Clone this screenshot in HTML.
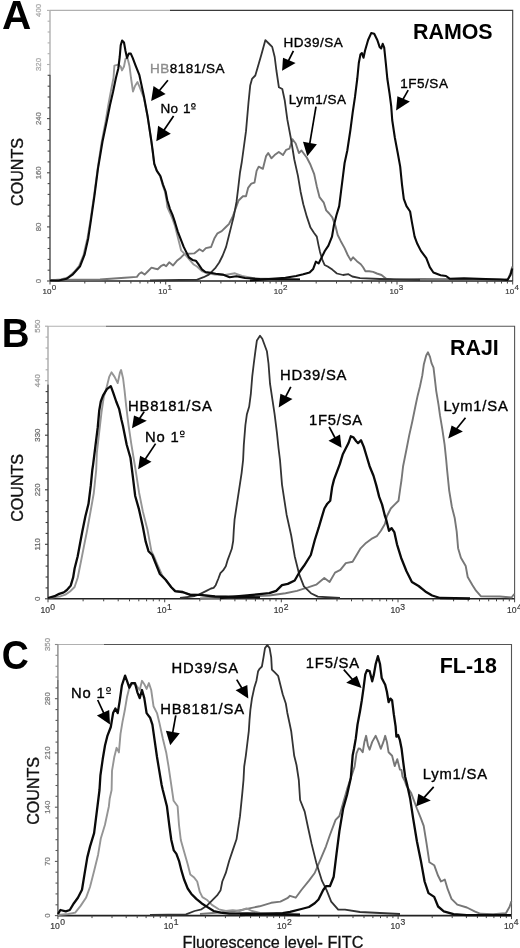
<!DOCTYPE html>
<html><head><meta charset="utf-8"><style>
html,body{margin:0;padding:0;background:#fff;}
body{width:520px;height:948px;position:relative;overflow:hidden;font-family:"Liberation Sans", sans-serif;}
svg text{font-family:"Liberation Sans", sans-serif;}
svg{filter:blur(0.35px);}
</style></head><body>
<svg width="520" height="948" viewBox="0 0 520 948" style="position:absolute;left:0;top:0">
<path d="M50,10.4H170" fill="none" stroke="#b0b0b0" stroke-width="1.1"/>
<path d="M170,10.4H512.7V281" fill="none" stroke="#3a3a3a" stroke-width="1.1"/>
<path d="M50,10.4V74.7" fill="none" stroke="#b0b0b0" stroke-width="1.4"/>
<path d="M50,74.7V281" fill="none" stroke="#4a4a4a" stroke-width="1.4"/>
<path d="M47.0,10.4H50" stroke="#b0b0b0" stroke-width="1.1"/>
<path d="M47.6,21.2H50" stroke="#b0b0b0" stroke-width="1.1"/>
<path d="M47.6,32.0H50" stroke="#b0b0b0" stroke-width="1.1"/>
<path d="M47.6,42.9H50" stroke="#b0b0b0" stroke-width="1.1"/>
<path d="M47.6,53.7H50" stroke="#b0b0b0" stroke-width="1.1"/>
<path d="M47.0,64.5H50" stroke="#b0b0b0" stroke-width="1.1"/>
<path d="M47.6,75.3H50" stroke="#4a4a4a" stroke-width="1.1"/>
<path d="M47.6,86.2H50" stroke="#4a4a4a" stroke-width="1.1"/>
<path d="M47.6,97.0H50" stroke="#4a4a4a" stroke-width="1.1"/>
<path d="M47.6,107.8H50" stroke="#4a4a4a" stroke-width="1.1"/>
<path d="M47.0,118.6H50" stroke="#4a4a4a" stroke-width="1.1"/>
<path d="M47.6,129.5H50" stroke="#4a4a4a" stroke-width="1.1"/>
<path d="M47.6,140.3H50" stroke="#4a4a4a" stroke-width="1.1"/>
<path d="M47.6,151.1H50" stroke="#4a4a4a" stroke-width="1.1"/>
<path d="M47.6,161.9H50" stroke="#4a4a4a" stroke-width="1.1"/>
<path d="M47.0,172.8H50" stroke="#4a4a4a" stroke-width="1.1"/>
<path d="M47.6,183.6H50" stroke="#4a4a4a" stroke-width="1.1"/>
<path d="M47.6,194.4H50" stroke="#4a4a4a" stroke-width="1.1"/>
<path d="M47.6,205.2H50" stroke="#4a4a4a" stroke-width="1.1"/>
<path d="M47.6,216.1H50" stroke="#4a4a4a" stroke-width="1.1"/>
<path d="M47.0,226.9H50" stroke="#4a4a4a" stroke-width="1.1"/>
<path d="M47.6,237.7H50" stroke="#4a4a4a" stroke-width="1.1"/>
<path d="M47.6,248.5H50" stroke="#4a4a4a" stroke-width="1.1"/>
<path d="M47.6,259.4H50" stroke="#4a4a4a" stroke-width="1.1"/>
<path d="M47.6,270.2H50" stroke="#4a4a4a" stroke-width="1.1"/>
<path d="M47.0,281.0H50" stroke="#4a4a4a" stroke-width="1.1"/>
<text x="41.2" y="10.4" transform="rotate(-90 41.2 10.4)" text-anchor="middle" font-size="7.8" fill="#a8a8a8" stroke="#a8a8a8" stroke-width="0.25">400</text>
<text x="41.2" y="64.5" transform="rotate(-90 41.2 64.5)" text-anchor="middle" font-size="7.8" fill="#a8a8a8" stroke="#a8a8a8" stroke-width="0.25">320</text>
<text x="41.2" y="118.6" transform="rotate(-90 41.2 118.6)" text-anchor="middle" font-size="7.8" fill="#7a7a7a" stroke="#7a7a7a" stroke-width="0.25">240</text>
<text x="41.2" y="172.8" transform="rotate(-90 41.2 172.8)" text-anchor="middle" font-size="7.8" fill="#7a7a7a" stroke="#7a7a7a" stroke-width="0.25">160</text>
<text x="41.2" y="226.9" transform="rotate(-90 41.2 226.9)" text-anchor="middle" font-size="7.8" fill="#7a7a7a" stroke="#7a7a7a" stroke-width="0.25">80</text>
<text x="41.2" y="281.0" transform="rotate(-90 41.2 281.0)" text-anchor="middle" font-size="7.8" fill="#7a7a7a" stroke="#7a7a7a" stroke-width="0.25">0</text>
<path d="M50,281H512.7" stroke="#222" stroke-width="1.6"/>
<path d="M50.0,281v3.5 M84.8,281v2.5 M105.2,281v2.5 M119.6,281v2.5 M130.9,281v2.5 M140.0,281v2.5 M147.8,281v2.5 M154.5,281v2.5 M160.4,281v2.5 M165.7,281v3.5 M200.5,281v2.5 M220.9,281v2.5 M235.3,281v2.5 M246.5,281v2.5 M255.7,281v2.5 M263.4,281v2.5 M270.1,281v2.5 M276.1,281v2.5 M281.4,281v3.5 M316.2,281v2.5 M336.5,281v2.5 M351.0,281v2.5 M362.2,281v2.5 M371.4,281v2.5 M379.1,281v2.5 M385.8,281v2.5 M391.7,281v2.5 M397.0,281v3.5 M431.8,281v2.5 M452.2,281v2.5 M466.7,281v2.5 M477.9,281v2.5 M487.0,281v2.5 M494.8,281v2.5 M501.5,281v2.5 M507.4,281v2.5 M512.7,281v3.5" stroke="#444" stroke-width="1"/>
<text x="42.5" y="293.6" font-size="8.0" fill="#3a3a3a" stroke="#3a3a3a" stroke-width="0.2">10<tspan dx="0.4" dy="-3.3">0</tspan></text>
<text x="158.2" y="293.6" font-size="8.0" fill="#3a3a3a" stroke="#3a3a3a" stroke-width="0.2">10<tspan dx="0.4" dy="-3.3">1</tspan></text>
<text x="273.8" y="293.6" font-size="8.0" fill="#3a3a3a" stroke="#3a3a3a" stroke-width="0.2">10<tspan dx="0.4" dy="-3.3">2</tspan></text>
<text x="389.5" y="293.6" font-size="8.0" fill="#3a3a3a" stroke="#3a3a3a" stroke-width="0.2">10<tspan dx="0.4" dy="-3.3">3</tspan></text>
<text x="505.2" y="293.6" font-size="8.0" fill="#3a3a3a" stroke="#3a3a3a" stroke-width="0.2">10<tspan dx="0.4" dy="-3.3">4</tspan></text>
<text x="16.7" y="172" transform="rotate(-90 16.7 172)" text-anchor="middle" dominant-baseline="central" font-size="16.1" fill="#111" stroke="#111" stroke-width="0.35">COUNTS</text>
<text transform="translate(1.89 29.40) scale(40.537 40.552)" x="0" y="0" font-size="1" font-weight="bold" fill="#000">A</text>
<text x="413.0" y="39.4" font-size="21.4" font-weight="bold" fill="#000">RAMOS</text>
<polyline points="50.0,280.0 100.0,279.5 124.6,277.7 136.9,276.9 139.2,273.8 141.5,272.3 144.6,274.6 147.7,271.5 151.5,267.7 154.6,268.5 157.7,269.2 160.8,266.2 163.8,264.6 166.2,266.2 169.2,262.3 173.1,265.4 176.9,260.8 180.8,257.7 183.8,254.6 187.7,253.8 194.2,253.4 199.5,249.2 202.7,251.3 205.9,248.1 211.1,247.0 214.3,238.6 217.5,233.3 221.7,231.2 225.9,227.0 229.1,223.8 232.3,217.5 235.5,209.0 238.6,200.5 242.9,196.3 246.0,196.3 248.1,187.9 251.3,183.6 254.5,182.6 256.6,170.9 258.7,166.7 262.9,168.8 266.1,156.1 268.2,153.0 271.4,158.3 274.6,155.1 278.8,151.9 283.0,155.1 286.2,149.8 289.4,148.7 292.5,139.2 295.7,143.5 298.9,153.0 301.5,150.5 306.9,157.7 310.5,164.8 314.1,173.8 316.8,186.4 319.5,197.1 323.8,202.7 326.2,210.4 329.2,213.5 332.3,217.3 335.4,225.8 337.7,235.0 340.8,241.2 344.6,248.1 347.7,255.0 350.8,260.4 353.1,257.3 356.9,261.2 360.8,264.2 363.1,267.3 365.4,271.2 369.2,271.2 373.1,271.9 376.9,273.5 381.5,275.0 386.2,278.8 393.8,279.6 420.0,279.0 505.0,279.5 508.0,279.0 510.5,273.0 512.3,266.5" fill="none" stroke="#777" stroke-width="1.9" stroke-linejoin="round"/>
<polyline points="50.0,280.5 60.8,279.5 68.0,277.5 74.0,272.0 79.0,266.0 83.5,255.0 87.5,238.0 90.5,220.0 94.0,196.0 97.5,170.0 101.5,143.0 105.5,122.0 108.5,104.0 111.5,88.0 113.5,78.0 114.4,65.6 118.3,64.6 120.7,66.5 122.0,70.4 124.0,66.5 125.5,58.8 127.5,58.0 129.5,66.0 131.0,78.0 133.0,91.5 135.0,86.0 137.5,82.0 140.0,88.0 143.9,98.0 147.5,116.0 151.2,140.0 152.4,150.0 154.0,163.0 156.5,170.5 160.0,176.0 162.5,184.6 165.0,192.0 166.5,200.0 167.3,207.0 170.0,213.0 172.5,219.0 175.0,226.0 177.5,236.0 181.1,250.3 184.6,253.8 188.0,258.0 193.3,264.2 197.0,266.5 201.9,271.1 206.0,273.0 215.0,274.5 225.0,275.0 235.0,273.3 242.0,276.0 255.0,278.5 300.0,279.5" fill="none" stroke="#959595" stroke-width="1.9" stroke-linejoin="round"/>
<polyline points="150.0,280.5 180.0,280.0 196.7,279.8 203.6,277.2 208.8,274.6 212.3,271.1 215.7,267.6 219.2,262.5 222.7,255.5 226.1,246.9 228.7,236.5 231.3,226.1 233.9,215.7 236.5,201.9 238.2,188.1 240.0,172.5 241.8,162.0 246.0,131.2 248.5,102.5 250.2,85.6 252.0,78.9 255.3,75.5 257.8,67.1 261.2,55.3 265.4,40.1 268.8,43.5 272.2,46.9 274.7,57.0 276.4,70.5 278.9,87.3 282.3,89.0 284.8,100.8 287.3,119.4 290.8,138.0 294.3,159.5 297.9,175.6 300.6,191.7 303.3,204.3 306.9,216.9 310.5,227.6 314.1,233.0 316.8,236.6 318.6,245.6 320.0,251.9 322.3,259.6 324.6,265.0 327.7,266.5 332.3,269.6 336.9,273.5 343.1,275.0 348.5,274.2 352.3,276.5 360.0,278.1 380.0,279.0 420.0,280.0" fill="none" stroke="#333" stroke-width="1.8" stroke-linejoin="round"/>
<polyline points="50.0,280.5 58.6,280.5 66.7,278.7 72.9,274.3 80.1,266.2 84.6,254.5 88.2,238.4 90.9,220.4 94.5,195.3 98.0,168.4 102.5,141.5 107.0,120.0 110.0,105.0 113.0,92.0 115.9,78.0 118.3,68.5 119.7,57.0 120.7,45.4 122.1,40.6 124.0,42.5 125.5,51.0 127.0,57.9 128.8,53.6 130.8,53.6 132.7,57.9 135.6,65.6 139.4,75.2 143.9,96.3 147.5,115.7 151.2,140.0 152.6,150.0 154.3,163.8 156.9,170.8 160.4,176.0 163.0,184.6 165.6,191.5 167.3,200.2 169.9,208.8 172.5,214.9 175.1,222.7 177.7,231.3 180.3,238.2 183.7,246.9 186.3,252.1 188.9,257.3 192.4,259.9 195.8,260.7 198.4,264.2 201.9,269.4 205.4,272.0 210.6,272.8 215.7,273.7 222.7,274.6 229.6,277.2 236.5,276.3 245.0,278.0 260.0,279.0 300.0,279.5" fill="none" stroke="#0a0a0a" stroke-width="2.1" stroke-linejoin="round"/>
<polyline points="250.0,280.5 285.4,277.8 296.1,276.0 303.3,274.3 309.6,272.5 313.2,268.9 315.9,261.7 318.6,263.5 321.3,258.1 324.8,251.0 328.4,245.6 332.0,236.6 333.8,225.8 336.5,215.0 339.2,206.1 341.0,191.7 342.8,177.4 344.6,163.0 347.3,150.5 350.4,130.0 352.7,112.3 355.0,96.9 357.3,78.5 358.8,63.0 360.4,54.6 361.9,53.1 363.5,57.7 365.0,50.8 368.1,40.0 371.2,33.1 374.2,33.8 377.3,40.0 379.6,46.9 381.2,48.5 382.7,43.8 384.2,47.7 385.8,63.0 387.3,78.5 389.6,93.8 391.2,106.2 392.2,120.0 394.9,138.0 397.6,152.3 400.2,166.6 402.0,184.6 403.8,198.9 406.5,206.1 410.1,211.5 411.9,222.2 414.6,236.6 417.3,243.8 420.9,250.9 426.3,258.1 429.8,267.1 433.4,272.5 440.6,275.2 446.0,276.0 449.6,278.7 464.0,278.4 500.0,279.5 507.5,280.0 510.5,275.0 512.3,268.5" fill="none" stroke="#0a0a0a" stroke-width="2.1" stroke-linejoin="round"/>
<path d="M48,326.2H106" fill="none" stroke="#b0b0b0" stroke-width="1.1"/>
<path d="M106,326.2H514.6V598.8" fill="none" stroke="#555" stroke-width="1.1"/>
<path d="M48,326.2V384.5" fill="none" stroke="#aaaaaa" stroke-width="1.4"/>
<path d="M48,384.5V598.8" fill="none" stroke="#3a3a3a" stroke-width="1.4"/>
<path d="M45.0,326.2H48" stroke="#aaaaaa" stroke-width="1.1"/>
<path d="M45.6,337.1H48" stroke="#aaaaaa" stroke-width="1.1"/>
<path d="M45.6,348.0H48" stroke="#aaaaaa" stroke-width="1.1"/>
<path d="M45.6,358.9H48" stroke="#aaaaaa" stroke-width="1.1"/>
<path d="M45.6,369.8H48" stroke="#aaaaaa" stroke-width="1.1"/>
<path d="M45.0,380.7H48" stroke="#aaaaaa" stroke-width="1.1"/>
<path d="M45.6,391.6H48" stroke="#3a3a3a" stroke-width="1.1"/>
<path d="M45.6,402.5H48" stroke="#3a3a3a" stroke-width="1.1"/>
<path d="M45.6,413.4H48" stroke="#3a3a3a" stroke-width="1.1"/>
<path d="M45.6,424.3H48" stroke="#3a3a3a" stroke-width="1.1"/>
<path d="M45.0,435.2H48" stroke="#3a3a3a" stroke-width="1.1"/>
<path d="M45.6,446.1H48" stroke="#3a3a3a" stroke-width="1.1"/>
<path d="M45.6,457.0H48" stroke="#3a3a3a" stroke-width="1.1"/>
<path d="M45.6,468.0H48" stroke="#3a3a3a" stroke-width="1.1"/>
<path d="M45.6,478.9H48" stroke="#3a3a3a" stroke-width="1.1"/>
<path d="M45.0,489.8H48" stroke="#3a3a3a" stroke-width="1.1"/>
<path d="M45.6,500.7H48" stroke="#3a3a3a" stroke-width="1.1"/>
<path d="M45.6,511.6H48" stroke="#3a3a3a" stroke-width="1.1"/>
<path d="M45.6,522.5H48" stroke="#3a3a3a" stroke-width="1.1"/>
<path d="M45.6,533.4H48" stroke="#3a3a3a" stroke-width="1.1"/>
<path d="M45.0,544.3H48" stroke="#3a3a3a" stroke-width="1.1"/>
<path d="M45.6,555.2H48" stroke="#3a3a3a" stroke-width="1.1"/>
<path d="M45.6,566.1H48" stroke="#3a3a3a" stroke-width="1.1"/>
<path d="M45.6,577.0H48" stroke="#3a3a3a" stroke-width="1.1"/>
<path d="M45.6,587.9H48" stroke="#3a3a3a" stroke-width="1.1"/>
<path d="M45.0,598.8H48" stroke="#3a3a3a" stroke-width="1.1"/>
<text x="40.4" y="326.2" transform="rotate(-90 40.4 326.2)" text-anchor="middle" font-size="7.8" fill="#999" stroke="#999" stroke-width="0.25">550</text>
<text x="40.4" y="380.7" transform="rotate(-90 40.4 380.7)" text-anchor="middle" font-size="7.8" fill="#999" stroke="#999" stroke-width="0.25">440</text>
<text x="40.4" y="435.2" transform="rotate(-90 40.4 435.2)" text-anchor="middle" font-size="7.8" fill="#6a6a6a" stroke="#6a6a6a" stroke-width="0.25">330</text>
<text x="40.4" y="489.8" transform="rotate(-90 40.4 489.8)" text-anchor="middle" font-size="7.8" fill="#6a6a6a" stroke="#6a6a6a" stroke-width="0.25">220</text>
<text x="40.4" y="544.3" transform="rotate(-90 40.4 544.3)" text-anchor="middle" font-size="7.8" fill="#6a6a6a" stroke="#6a6a6a" stroke-width="0.25">110</text>
<text x="40.4" y="598.8" transform="rotate(-90 40.4 598.8)" text-anchor="middle" font-size="7.8" fill="#6a6a6a" stroke="#6a6a6a" stroke-width="0.25">0</text>
<path d="M48,598.8H514.6" stroke="#222" stroke-width="1.6"/>
<path d="M48.0,598.8v3.5 M83.1,598.8v2.5 M103.7,598.8v2.5 M118.2,598.8v2.5 M129.5,598.8v2.5 M138.8,598.8v2.5 M146.6,598.8v2.5 M153.3,598.8v2.5 M159.3,598.8v2.5 M164.7,598.8v3.5 M199.8,598.8v2.5 M220.3,598.8v2.5 M234.9,598.8v2.5 M246.2,598.8v2.5 M255.4,598.8v2.5 M263.2,598.8v2.5 M270.0,598.8v2.5 M276.0,598.8v2.5 M281.3,598.8v3.5 M316.4,598.8v2.5 M337.0,598.8v2.5 M351.5,598.8v2.5 M362.8,598.8v2.5 M372.1,598.8v2.5 M379.9,598.8v2.5 M386.6,598.8v2.5 M392.6,598.8v2.5 M398.0,598.8v3.5 M433.1,598.8v2.5 M453.6,598.8v2.5 M468.2,598.8v2.5 M479.5,598.8v2.5 M488.7,598.8v2.5 M496.5,598.8v2.5 M503.3,598.8v2.5 M509.3,598.8v2.5 M514.6,598.8v3.5" stroke="#444" stroke-width="1"/>
<text x="40.4" y="613.2" font-size="8.6" fill="#3a3a3a" stroke="#3a3a3a" stroke-width="0.2">10<tspan dx="0.4" dy="-3.3">0</tspan></text>
<text x="157.1" y="613.2" font-size="8.6" fill="#3a3a3a" stroke="#3a3a3a" stroke-width="0.2">10<tspan dx="0.4" dy="-3.3">1</tspan></text>
<text x="273.7" y="613.2" font-size="8.6" fill="#3a3a3a" stroke="#3a3a3a" stroke-width="0.2">10<tspan dx="0.4" dy="-3.3">2</tspan></text>
<text x="390.4" y="613.2" font-size="8.6" fill="#3a3a3a" stroke="#3a3a3a" stroke-width="0.2">10<tspan dx="0.4" dy="-3.3">3</tspan></text>
<text x="507.0" y="613.2" font-size="8.6" fill="#3a3a3a" stroke="#3a3a3a" stroke-width="0.2">10<tspan dx="0.4" dy="-3.3">4</tspan></text>
<text x="16.9" y="487.9" transform="rotate(-90 16.9 487.9)" text-anchor="middle" dominant-baseline="central" font-size="16.1" fill="#111" stroke="#111" stroke-width="0.35">COUNTS</text>
<text transform="translate(1.82 346.80) scale(38.525 40.407)" x="0" y="0" font-size="1" font-weight="bold" fill="#000">B</text>
<text x="450.0" y="355.0" font-size="21.4" font-weight="bold" fill="#000">RAJI</text>
<polyline points="200.0,598.5 269.3,595.5 285.5,593.2 297.0,590.9 303.9,588.6 308.1,587.4 316.2,584.7 324.3,578.0 329.6,582.0 335.0,572.6 340.4,569.9 345.8,563.1 352.6,561.8 356.6,555.0 360.6,548.3 366.0,542.9 371.4,538.9 376.8,536.2 380.9,530.8 384.9,524.0 386.9,516.2 390.8,508.5 394.6,504.6 398.5,500.8 400.4,487.3 401.5,480.0 403.1,466.2 406.2,450.8 409.2,435.4 412.3,421.5 415.4,406.2 417.7,395.4 420.0,386.2 422.3,375.4 423.8,364.6 426.2,355.4 428.0,352.3 430.0,356.9 431.5,363.1 433.5,367.7 434.6,376.9 436.2,390.8 438.5,404.6 440.0,415.4 442.3,429.2 444.6,444.6 446.2,460.0 447.1,470.0 449.2,490.6 451.9,507.0 454.7,518.0 456.7,531.7 458.1,548.2 460.9,557.8 465.7,566.0 467.7,577.0 472.5,585.2 476.0,590.7 480.8,596.2 500.0,596.5 511.5,597.5 514.3,594.0" fill="none" stroke="#777" stroke-width="1.9" stroke-linejoin="round"/>
<polyline points="48.0,598.0 60.8,596.2 65.4,594.6 70.0,591.5 74.6,587.0 77.7,577.7 80.8,562.3 83.8,547.0 86.9,531.5 90.8,510.0 93.8,493.0 96.2,470.0 96.9,452.3 99.2,432.3 101.5,412.3 103.8,396.9 106.9,386.2 109.2,376.9 111.5,372.3 114.6,376.9 117.7,383.1 120.0,372.3 121.1,370.0 123.1,378.5 124.6,390.8 126.2,406.2 127.7,418.5 128.6,425.7 131.4,444.7 135.2,467.5 139.0,492.2 142.8,511.3 147.6,530.3 151.4,551.2 154.2,556.9 158.0,566.0 162.0,575.0 166.0,580.0 171.3,587.3 176.0,591.5 183.0,592.5 190.3,594.5 200.0,595.0 215.0,596.5 260.0,597.5" fill="none" stroke="#959595" stroke-width="1.9" stroke-linejoin="round"/>
<polyline points="180.0,598.0 190.8,596.6 194.8,596.0 198.8,594.6 202.9,592.6 206.9,590.6 211.0,588.5 213.6,587.9 215.7,585.2 218.4,578.5 220.4,573.1 223.1,570.4 225.8,566.3 227.8,559.6 229.8,554.2 231.8,548.8 233.2,540.8 233.8,530.0 234.6,519.3 238.1,496.2 241.6,473.1 243.1,460.0 243.8,445.0 245.4,425.0 246.9,414.2 249.2,406.5 250.8,394.2 252.3,375.8 253.8,363.5 255.4,351.2 256.9,340.4 260.0,335.8 262.3,338.8 264.6,345.0 266.9,351.2 268.5,363.5 270.0,383.5 272.3,398.8 274.6,414.2 276.9,432.7 278.5,448.0 280.0,460.0 282.0,484.6 286.6,514.7 291.2,535.5 294.7,556.2 299.3,574.7 303.9,586.3 310.9,593.2 317.8,596.6 340.0,598.0" fill="none" stroke="#333" stroke-width="1.8" stroke-linejoin="round"/>
<polyline points="48.0,598.0 54.6,596.2 59.2,593.8 63.8,592.3 66.9,590.0 70.8,585.4 73.1,577.7 74.6,568.5 77.7,556.2 80.0,543.8 82.3,531.5 85.4,516.2 88.5,503.8 90.8,485.4 92.3,470.0 93.1,464.6 95.4,446.2 97.7,427.7 99.2,410.8 100.8,401.5 103.1,395.4 106.9,389.2 110.8,386.2 113.1,392.3 116.2,401.5 119.2,409.2 121.5,420.0 122.9,425.7 126.7,444.7 130.5,458.0 132.4,473.2 135.2,496.0 139.0,509.4 142.8,526.5 145.7,541.7 148.5,551.2 152.3,555.0 156.1,564.5 159.9,574.0 165.6,579.7 171.3,587.3 175.1,591.1 182.7,592.0 190.3,594.9 199.8,594.9 215.0,596.5 260.0,597.5" fill="none" stroke="#0a0a0a" stroke-width="2.3" stroke-linejoin="round"/>
<polyline points="220.0,598.0 269.3,593.2 276.2,590.9 282.0,585.1 287.8,583.9 294.7,580.5 300.0,571.2 304.0,565.8 310.8,555.0 314.8,540.0 318.7,527.7 321.5,518.1 324.4,508.5 327.3,503.7 330.2,500.8 332.1,487.3 334.0,479.6 336.9,471.9 339.8,464.2 342.7,454.6 345.6,448.8 348.5,443.1 350.8,436.3 353.3,437.3 356.2,441.2 358.1,443.1 361.0,440.2 363.8,446.9 366.7,456.5 369.6,466.2 373.5,475.8 376.3,485.4 379.2,496.9 382.1,504.6 385.0,516.2 386.3,520.0 389.0,530.8 391.6,528.1 394.3,532.1 397.0,544.3 401.1,557.7 406.5,571.2 411.9,582.0 418.6,586.0 425.3,591.4 432.1,595.5 440.2,598.0 470.0,598.5" fill="none" stroke="#0a0a0a" stroke-width="2.3" stroke-linejoin="round"/>
<path d="M57.9,644.5H104" fill="none" stroke="#b0b0b0" stroke-width="1.1"/>
<path d="M104,644.5H511.5V915.6" fill="none" stroke="#555" stroke-width="1.1"/>
<path d="M57.9,644.5V680" fill="none" stroke="#8a8a8a" stroke-width="1.4"/>
<path d="M57.9,680V915.6" fill="none" stroke="#5a5a5a" stroke-width="1.4"/>
<path d="M54.9,644.5H57.9" stroke="#8a8a8a" stroke-width="1.1"/>
<path d="M55.5,655.3H57.9" stroke="#8a8a8a" stroke-width="1.1"/>
<path d="M55.5,666.2H57.9" stroke="#8a8a8a" stroke-width="1.1"/>
<path d="M55.5,677.0H57.9" stroke="#8a8a8a" stroke-width="1.1"/>
<path d="M55.5,687.9H57.9" stroke="#5a5a5a" stroke-width="1.1"/>
<path d="M54.9,698.7H57.9" stroke="#5a5a5a" stroke-width="1.1"/>
<path d="M55.5,709.6H57.9" stroke="#5a5a5a" stroke-width="1.1"/>
<path d="M55.5,720.4H57.9" stroke="#5a5a5a" stroke-width="1.1"/>
<path d="M55.5,731.3H57.9" stroke="#5a5a5a" stroke-width="1.1"/>
<path d="M55.5,742.1H57.9" stroke="#5a5a5a" stroke-width="1.1"/>
<path d="M54.9,752.9H57.9" stroke="#5a5a5a" stroke-width="1.1"/>
<path d="M55.5,763.8H57.9" stroke="#5a5a5a" stroke-width="1.1"/>
<path d="M55.5,774.6H57.9" stroke="#5a5a5a" stroke-width="1.1"/>
<path d="M55.5,785.5H57.9" stroke="#5a5a5a" stroke-width="1.1"/>
<path d="M55.5,796.3H57.9" stroke="#5a5a5a" stroke-width="1.1"/>
<path d="M54.9,807.2H57.9" stroke="#5a5a5a" stroke-width="1.1"/>
<path d="M55.5,818.0H57.9" stroke="#5a5a5a" stroke-width="1.1"/>
<path d="M55.5,828.8H57.9" stroke="#5a5a5a" stroke-width="1.1"/>
<path d="M55.5,839.7H57.9" stroke="#5a5a5a" stroke-width="1.1"/>
<path d="M55.5,850.5H57.9" stroke="#5a5a5a" stroke-width="1.1"/>
<path d="M54.9,861.4H57.9" stroke="#5a5a5a" stroke-width="1.1"/>
<path d="M55.5,872.2H57.9" stroke="#5a5a5a" stroke-width="1.1"/>
<path d="M55.5,883.1H57.9" stroke="#5a5a5a" stroke-width="1.1"/>
<path d="M55.5,893.9H57.9" stroke="#5a5a5a" stroke-width="1.1"/>
<path d="M55.5,904.8H57.9" stroke="#5a5a5a" stroke-width="1.1"/>
<path d="M54.9,915.6H57.9" stroke="#5a5a5a" stroke-width="1.1"/>
<text x="49.6" y="644.5" transform="rotate(-90 49.6 644.5)" text-anchor="middle" font-size="7.8" fill="#999" stroke="#999" stroke-width="0.25">350</text>
<text x="49.6" y="698.7" transform="rotate(-90 49.6 698.7)" text-anchor="middle" font-size="7.8" fill="#7a7a7a" stroke="#7a7a7a" stroke-width="0.25">280</text>
<text x="49.6" y="752.9" transform="rotate(-90 49.6 752.9)" text-anchor="middle" font-size="7.8" fill="#7a7a7a" stroke="#7a7a7a" stroke-width="0.25">210</text>
<text x="49.6" y="807.2" transform="rotate(-90 49.6 807.2)" text-anchor="middle" font-size="7.8" fill="#7a7a7a" stroke="#7a7a7a" stroke-width="0.25">140</text>
<text x="49.6" y="861.4" transform="rotate(-90 49.6 861.4)" text-anchor="middle" font-size="7.8" fill="#7a7a7a" stroke="#7a7a7a" stroke-width="0.25">70</text>
<text x="49.6" y="915.6" transform="rotate(-90 49.6 915.6)" text-anchor="middle" font-size="7.8" fill="#7a7a7a" stroke="#7a7a7a" stroke-width="0.25">0</text>
<path d="M57.9,915.6H511.5" stroke="#222" stroke-width="1.6"/>
<path d="M57.9,915.6v3.5 M92.0,915.6v2.5 M112.0,915.6v2.5 M126.2,915.6v2.5 M137.2,915.6v2.5 M146.1,915.6v2.5 M153.7,915.6v2.5 M160.3,915.6v2.5 M166.1,915.6v2.5 M171.3,915.6v3.5 M205.4,915.6v2.5 M225.4,915.6v2.5 M239.6,915.6v2.5 M250.6,915.6v2.5 M259.5,915.6v2.5 M267.1,915.6v2.5 M273.7,915.6v2.5 M279.5,915.6v2.5 M284.7,915.6v3.5 M318.8,915.6v2.5 M338.8,915.6v2.5 M353.0,915.6v2.5 M364.0,915.6v2.5 M372.9,915.6v2.5 M380.5,915.6v2.5 M387.1,915.6v2.5 M392.9,915.6v2.5 M398.1,915.6v3.5 M432.2,915.6v2.5 M452.2,915.6v2.5 M466.4,915.6v2.5 M477.4,915.6v2.5 M486.3,915.6v2.5 M493.9,915.6v2.5 M500.5,915.6v2.5 M506.3,915.6v2.5 M511.5,915.6v3.5" stroke="#444" stroke-width="1"/>
<text x="50.3" y="928.7" font-size="8.6" fill="#3a3a3a" stroke="#3a3a3a" stroke-width="0.2">10<tspan dx="0.4" dy="-3.3">0</tspan></text>
<text x="163.7" y="928.7" font-size="8.6" fill="#3a3a3a" stroke="#3a3a3a" stroke-width="0.2">10<tspan dx="0.4" dy="-3.3">1</tspan></text>
<text x="277.1" y="928.7" font-size="8.6" fill="#3a3a3a" stroke="#3a3a3a" stroke-width="0.2">10<tspan dx="0.4" dy="-3.3">2</tspan></text>
<text x="390.5" y="928.7" font-size="8.6" fill="#3a3a3a" stroke="#3a3a3a" stroke-width="0.2">10<tspan dx="0.4" dy="-3.3">3</tspan></text>
<text x="503.9" y="928.7" font-size="8.6" fill="#3a3a3a" stroke="#3a3a3a" stroke-width="0.2">10<tspan dx="0.4" dy="-3.3">4</tspan></text>
<text x="33.3" y="790.9" transform="rotate(-90 33.3 790.9)" text-anchor="middle" dominant-baseline="central" font-size="16.1" fill="#111" stroke="#111" stroke-width="0.35">COUNTS</text>
<text transform="translate(1.66 668.69) scale(37.462 40.678)" x="0" y="0" font-size="1" font-weight="bold" fill="#000">C</text>
<text x="439.8" y="673.2" font-size="21.4" font-weight="bold" fill="#000">FL-18</text>
<polyline points="200.0,914.0 233.9,911.4 248.1,908.6 259.6,906.3 271.2,902.8 280.4,901.6 287.4,898.2 290.0,895.8 295.7,897.7 301.4,890.0 309.0,880.6 314.7,873.0 320.4,859.6 326.0,846.3 329.9,835.0 335.6,819.8 339.4,816.0 343.2,802.7 347.0,789.4 350.8,778.0 354.6,766.6 356.5,753.3 358.5,748.5 360.1,748.8 362.7,752.3 364.4,741.9 366.1,735.8 367.9,745.3 369.6,749.7 372.2,741.9 375.7,735.8 378.3,741.9 380.8,748.8 383.4,741.9 385.2,735.8 386.9,741.9 388.6,752.3 392.1,755.7 394.7,766.1 397.3,759.2 399.9,769.6 401.5,770.0 402.5,776.5 405.1,781.7 406.3,785.4 411.2,793.1 416.9,808.5 420.8,818.1 423.7,825.8 426.5,843.1 429.4,862.3 434.2,865.2 438.1,875.8 441.0,881.5 444.8,879.6 447.7,889.2 451.5,898.8 457.3,904.6 466.9,907.5 474.6,911.3 480.4,913.8 493.1,914.1 505.9,913.2 509.6,906.8 511.4,901.3" fill="none" stroke="#777" stroke-width="1.9" stroke-linejoin="round"/>
<polyline points="58.0,915.0 68.5,914.0 75.2,912.6 80.6,905.9 86.0,897.8 90.0,887.0 94.1,870.9 98.1,854.7 100.8,838.5 104.9,825.0 108.9,806.2 109.7,798.6 111.6,790.0 112.0,770.9 114.3,757.0 116.6,747.8 118.9,752.4 120.5,733.9 122.4,722.4 124.7,710.8 127.0,697.0 129.3,687.7 132.7,683.1 136.2,685.4 139.7,690.0 142.0,680.8 144.3,684.2 146.6,688.9 148.9,683.1 151.2,690.0 153.5,706.2 157.0,713.1 159.3,722.4 162.8,738.5 166.2,752.4 168.5,766.2 170.9,782.4 173.6,800.8 177.6,806.2 179.0,825.0 180.8,840.0 184.2,852.1 187.7,864.2 190.3,874.6 193.8,877.2 197.2,881.5 199.8,891.9 202.4,897.1 206.7,899.7 211.9,904.9 218.8,909.3 225.8,911.0 232.7,910.1 239.6,911.0 246.5,908.4 252.0,911.0 260.0,913.0 300.0,914.0" fill="none" stroke="#959595" stroke-width="1.9" stroke-linejoin="round"/>
<polyline points="150.0,915.0 186.0,914.4 194.6,911.0 201.5,909.3 206.7,905.8 211.9,900.6 217.1,895.4 220.6,890.2 222.3,881.5 225.8,872.9 229.2,860.8 232.7,850.4 236.5,839.3 240.0,816.2 242.3,793.1 243.5,780.0 244.2,766.5 245.8,755.8 247.3,743.5 248.8,731.2 249.6,718.8 250.4,709.6 251.9,698.8 254.2,688.1 256.5,680.4 258.1,671.2 259.6,668.8 261.9,666.5 263.5,657.3 265.0,648.1 267.3,645.0 269.6,648.1 271.2,657.3 271.9,669.6 275.0,672.7 278.1,675.8 280.4,685.0 282.7,694.2 285.8,703.5 287.3,712.7 289.6,723.5 291.2,731.2 292.7,743.5 294.2,755.8 296.5,765.0 298.8,780.0 300.1,800.0 304.7,811.6 308.1,827.7 311.6,843.9 316.2,862.4 322.0,880.9 326.6,890.1 331.2,901.6 338.2,909.7 345.0,909.7 360.0,912.0 400.0,914.0" fill="none" stroke="#333" stroke-width="1.8" stroke-linejoin="round"/>
<polyline points="58.0,914.0 60.4,910.0 65.8,911.3 69.8,910.0 73.9,903.2 77.9,897.8 82.0,889.7 84.6,873.6 87.3,857.4 90.0,846.6 94.1,833.1 96.8,811.6 99.5,790.0 100.4,775.5 102.7,759.3 105.0,745.5 107.3,736.2 110.8,727.0 113.1,713.1 115.4,708.5 117.7,713.1 119.6,701.6 121.9,685.4 125.1,675.7 127.0,680.8 129.3,687.7 131.6,683.1 135.0,683.1 137.4,692.3 139.7,698.1 142.0,690.0 144.3,698.1 146.6,713.1 150.1,717.7 152.4,724.7 154.7,740.8 157.0,757.0 159.3,770.9 161.6,784.7 162.8,790.0 166.9,806.2 169.6,827.7 171.3,840.0 173.8,850.4 176.4,853.9 179.0,860.8 181.6,871.2 184.2,879.8 187.7,888.5 191.2,893.7 196.3,898.9 201.5,903.2 206.7,906.6 213.7,911.0 220.6,912.7 229.2,913.6 247.4,913.5 274.3,914.1 300.0,915.0" fill="none" stroke="#0a0a0a" stroke-width="2.3" stroke-linejoin="round"/>
<polyline points="240.0,915.0 282.7,913.2 290.0,911.8 301.4,909.0 309.0,907.0 314.7,903.3 318.5,899.5 323.2,890.0 326.0,886.2 329.9,886.2 333.7,876.7 336.5,853.9 339.4,831.1 343.2,808.4 347.0,795.0 350.8,778.0 352.7,755.2 354.0,748.8 355.8,738.4 357.5,724.6 360.1,710.7 361.8,700.4 363.5,688.3 365.3,674.4 367.0,670.1 369.6,671.0 372.2,681.3 373.9,674.4 375.7,664.0 377.9,656.2 380.0,664.0 381.7,677.9 385.2,684.8 386.9,691.7 388.6,702.1 390.4,698.6 392.1,700.4 393.8,714.2 395.6,726.3 396.4,736.7 398.1,735.0 399.9,740.2 401.6,748.8 403.3,762.6 405.1,776.5 407.3,785.4 410.2,798.8 413.1,818.1 416.9,841.2 420.8,860.4 424.6,881.5 428.5,893.1 434.2,896.9 438.1,906.5 443.8,911.3 453.5,914.2 466.9,915.2 511.0,915.2" fill="none" stroke="#0a0a0a" stroke-width="2.3" stroke-linejoin="round"/>
<text x="149.99" y="72.9" font-size="13.5" letter-spacing="0.5" fill="#000" stroke="#000" stroke-width="0.35"><tspan fill="#8c8c8c" stroke="#8c8c8c">HB</tspan>8181/SA</text>
<text x="160.39" y="113.1" font-size="13.5" letter-spacing="0.5" fill="#000" stroke="#000" stroke-width="0.35">No 1</text>
<text x="283.59" y="47" font-size="13.5" letter-spacing="0.5" fill="#000" stroke="#000" stroke-width="0.35">HD39/SA</text>
<text x="288.79" y="103.5" font-size="13.5" letter-spacing="0.5" fill="#000" stroke="#000" stroke-width="0.35">Lym1/SA</text>
<text x="400.37" y="87.5" font-size="13.5" letter-spacing="0.5" fill="#000" stroke="#000" stroke-width="0.35">1F5/SA</text>
<text x="128.09" y="410.9" font-size="14.8" letter-spacing="0.8" fill="#000" stroke="#000" stroke-width="0.35">HB8181/SA</text>
<text x="144.99" y="441.6" font-size="14.8" letter-spacing="0.8" fill="#000" stroke="#000" stroke-width="0.35">No 1</text>
<text x="279.99" y="379.9" font-size="14.8" letter-spacing="0.8" fill="#000" stroke="#000" stroke-width="0.35">HD39/SA</text>
<text x="308.88" y="425.4" font-size="14.8" letter-spacing="0.8" fill="#000" stroke="#000" stroke-width="0.35">1F5/SA</text>
<text x="443.49" y="410.8" font-size="14.8" letter-spacing="0.8" fill="#000" stroke="#000" stroke-width="0.35">Lym1/SA</text>
<text x="71.09" y="698.2" font-size="14.8" letter-spacing="0.8" fill="#000" stroke="#000" stroke-width="0.35">No 1</text>
<text x="171.59" y="672.6" font-size="14.8" letter-spacing="0.8" fill="#000" stroke="#000" stroke-width="0.35">HD39/SA</text>
<text x="160.29" y="713.5" font-size="14.8" letter-spacing="0.8" fill="#000" stroke="#000" stroke-width="0.35">HB8181/SA</text>
<text x="305.78" y="667.8" font-size="14.8" letter-spacing="0.8" fill="#000" stroke="#000" stroke-width="0.35">1F5/SA</text>
<text x="422.79" y="779.2" font-size="14.8" letter-spacing="0.8" fill="#000" stroke="#000" stroke-width="0.35">Lym1/SA</text>
<ellipse cx="193.4" cy="105.4" rx="1.8" ry="1.8" fill="none" stroke="#000" stroke-width="1.1"/>
<path d="M191.3,108.9H195.6" stroke="#000" stroke-width="1.1"/>
<ellipse cx="182.3" cy="432.9" rx="1.9" ry="1.9" fill="none" stroke="#000" stroke-width="1.1"/>
<path d="M180.2,436.7H184.4" stroke="#000" stroke-width="1.1"/>
<ellipse cx="108.5" cy="689.4" rx="1.9" ry="1.9" fill="none" stroke="#000" stroke-width="1.1"/>
<path d="M106.2,693.4H110.8" stroke="#000" stroke-width="1.1"/>
<path d="M167.9,80.2L156.8,93.7" stroke="#000" stroke-width="1.7"/>
<path d="M151.2,101L153.5,86L165.6,94Z" fill="#000"/>
<path d="M173.6,116L161.7,133.6" stroke="#000" stroke-width="1.7"/>
<path d="M156.3,141.3L158.1,125.7L170.8,133.8Z" fill="#000"/>
<path d="M293.4,50.8L286.9,63.8" stroke="#000" stroke-width="1.7"/>
<path d="M282.1,70.7L283,57.7L295.6,62.9Z" fill="#000"/>
<path d="M316,106.7L309.1,147.4" stroke="#000" stroke-width="1.7"/>
<path d="M307.3,156.3L303,141.8L316.9,144.2Z" fill="#000"/>
<path d="M408.2,90.2L401.1,102.7" stroke="#000" stroke-width="1.7"/>
<path d="M396.1,110.4L397.4,96.2L409.9,101.6Z" fill="#000"/>
<path d="M144.1,411.8L137.6,421.5" stroke="#000" stroke-width="1.7"/>
<path d="M132,428.2L134,415.4L146.8,420.8Z" fill="#000"/>
<path d="M155.6,443.6L143.2,462.3" stroke="#000" stroke-width="1.7"/>
<path d="M138.1,469.2L140.1,455.8L151.5,461.8Z" fill="#000"/>
<path d="M290.8,386.8L283.9,400.1" stroke="#000" stroke-width="1.7"/>
<path d="M278.7,407.6L280.4,393.7L292.5,398.9Z" fill="#000"/>
<path d="M329.2,426.9L336.7,441.0" stroke="#000" stroke-width="1.7"/>
<path d="M341.5,447.7L328.5,440.8L340,434.6Z" fill="#000"/>
<path d="M465.5,417.7L454.2,431.8" stroke="#000" stroke-width="1.7"/>
<path d="M448.2,438.4L451.6,425.5L462.9,431.5Z" fill="#000"/>
<path d="M97.7,700L105.4,716.7" stroke="#000" stroke-width="1.7"/>
<path d="M110,724.6L96.9,715.4L109.2,710Z" fill="#000"/>
<path d="M236.7,679.6L243.7,691.2" stroke="#000" stroke-width="1.7"/>
<path d="M248.3,698.6L235.6,690.2L247.3,684.9Z" fill="#000"/>
<path d="M175.8,715.4L172.0,736.4" stroke="#000" stroke-width="1.7"/>
<path d="M170.2,745.2L165.9,730.8L179.8,733.2Z" fill="#000"/>
<path d="M343.8,669.6L354.9,682.2" stroke="#000" stroke-width="1.7"/>
<path d="M361.5,688.1L346.2,682.7L356.9,675.8Z" fill="#000"/>
<path d="M433.7,786.9L421.8,800.1" stroke="#000" stroke-width="1.7"/>
<path d="M416.3,806.2L418.3,793.7L430.8,800.4Z" fill="#000"/>
<text x="182.6" y="947.6" font-size="16.2" fill="#111" stroke="#111" stroke-width="0.3">Fluorescence level- FITC</text>
</svg>
</body></html>
